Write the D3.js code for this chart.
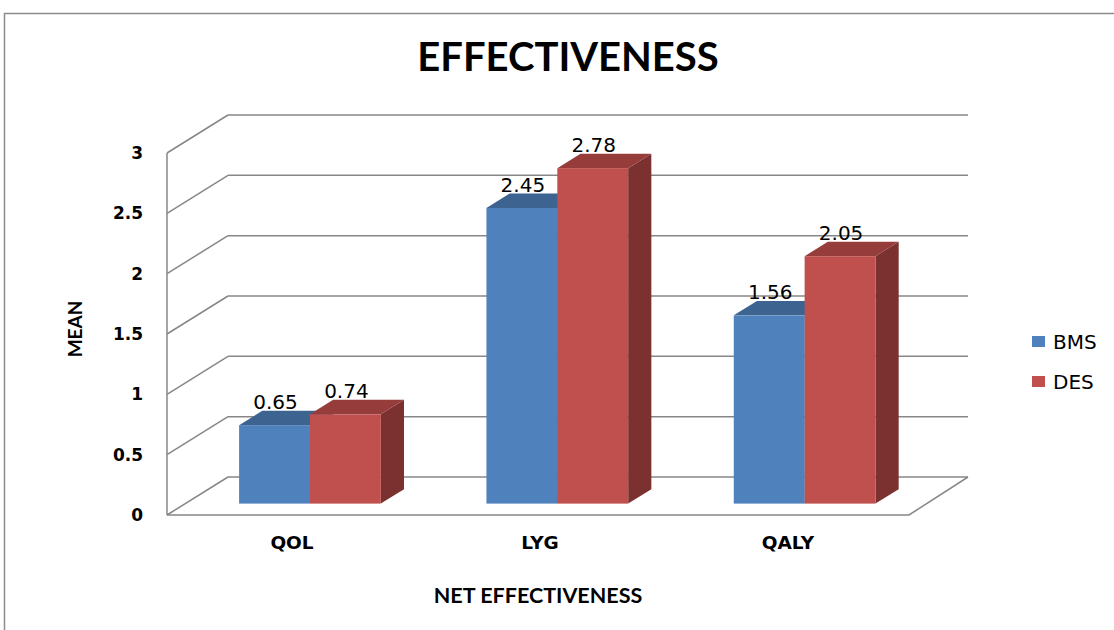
<!DOCTYPE html>
<html>
<head>
<meta charset="utf-8">
<script src="https://cdn.jsdelivr.net/npm/d3@7"></script>
<style>
  body { margin: 0; background: #fff; }
  svg { display: block; font-family: Lato, "Open Sans", sans-serif; }
</style>
</head>
<body>
<div id="chart"></div>
<script>
const WIDTH = 1114;
const HEIGHT = 630;

const categories = ["QOL", "LYG", "QALY"];
const seriesNames = ["BMS", "DES"];
const bmsValues = [0.65, 2.45, 1.56];
const desValues = [0.74, 2.78, 2.05];
const yTicks = [0, 0.5, 1, 1.5, 2, 2.5, 3];

const colors = {
  BMS: { front: "#4f81bd", top: "#3d6391", side: "#34567e" },
  DES: { front: "#c0504d", top: "#963d3b", side: "#7a3130" }
};
const LABEL_FONT = "'DejaVu Sans', Verdana, sans-serif";

// 3d frame: front floor plane and depth offset
const plot = { left: 167, right: 905, bottom: 515, top: 153 };
const DX = 61, DY = 38;          // depth of the whole box
const Z0 = 0.3, Z1 = 0.68;       // bar front / back depth fraction

const svg = d3.select("#chart").append("svg")
  .attr("width", WIDTH)
  .attr("height", HEIGHT);

// outer border
svg.append("rect")
  .attr("x", 4.5).attr("y", 13.5)
  .attr("width", WIDTH + 20).attr("height", HEIGHT + 20)
  .attr("fill", "none").attr("stroke", "#8c8c8c").attr("stroke-width", 1.5);

let yScale = d3.scaleLinear().domain([0, 3]).range([plot.bottom, plot.top]);
let xScale = d3.scaleBand().domain(categories).range([plot.left + 1, plot.right + 5])
  .paddingInner(0.427).paddingOuter(0.2135);
let xSub = d3.scaleBand().domain(seriesNames).range([0, xScale.bandwidth()]);

// walls: back gridlines and left-wall diagonals
let grid = svg.append("g").classed("gridlines", true)
  .attr("stroke", "#878787").attr("stroke-width", 1.5).attr("fill", "none");
grid.selectAll("line.back").data(yTicks).enter()
  .append("line").classed("back", true)
  .attr("x1", plot.left + DX).attr("x2", plot.right + DX + 2)
  .attr("y1", d => yScale(d) - DY).attr("y2", d => yScale(d) - DY);
grid.selectAll("line.side").data(yTicks).enter()
  .append("line").classed("side", true)
  .attr("x1", plot.left).attr("x2", plot.left + DX)
  .attr("y1", d => yScale(d)).attr("y2", d => yScale(d) - DY);
// front axis + floor edge
grid.append("line")
  .attr("x1", plot.left).attr("x2", plot.left)
  .attr("y1", yScale(3)).attr("y2", yScale(0));
grid.append("polyline")
  .attr("points", [[plot.left, yScale(0)], [plot.right + 4, yScale(0)], [plot.right + DX + 2, yScale(0) - DY]].join(" "));

// bars
let bars = [];
categories.forEach((c, i) => {
  bars.push({ cat: c, series: "BMS", value: bmsValues[i] });
  bars.push({ cat: c, series: "DES", value: desValues[i] });
});

let barsG = svg.append("g").classed("bars", true);
bars.forEach(d => {
  let x0 = xScale(d.cat) + xSub(d.series) + Z0 * DX;
  let x1 = x0 + xSub.bandwidth();
  let yb = yScale(0) - Z0 * DY;
  let yt = yScale(d.value) - Z0 * DY;
  let ddx = (Z1 - Z0) * DX, ddy = (Z1 - Z0) * DY;
  let c = colors[d.series];
  let g = barsG.append("g").classed("bar " + d.series, true);
  g.append("polygon").attr("fill", c.side)
    .attr("points", [[x1, yt], [x1 + ddx, yt - ddy], [x1 + ddx, yb - ddy], [x1, yb]].join(" "));
  g.append("polygon").attr("fill", c.top)
    .attr("points", [[x0, yt], [x0 + ddx, yt - ddy], [x1 + ddx, yt - ddy], [x1, yt]].join(" "));
  g.append("rect").attr("fill", c.front)
    .attr("x", x0).attr("y", yt).attr("width", x1 - x0).attr("height", yb - yt);
  g.append("text")
    .attr("x", (x0 + x1) / 2 + 1).attr("y", yt - ddy - 2)
    .attr("text-anchor", "middle")
    .attr("font-family", LABEL_FONT)
    .attr("font-size", 20).attr("fill", "#000")
    .text(d3.format(".2f")(d.value));
});

// y axis labels
let yAxis = d3.axisLeft(yScale).tickValues(yTicks).tickSize(0).tickPadding(0).tickFormat(d => String(d));
let yAxisG = svg.append("g")
  .attr("class", "y axis")
  .attr("transform", "translate(143,0)")
  .call(yAxis);
yAxisG.select(".domain").remove();
yAxisG.selectAll("text").attr("font-size", 17).attr("font-weight", "bold")
  .attr("font-family", LABEL_FONT).attr("fill", "#000");

// x axis labels
let xLabelScale = d3.scaleBand().domain(categories).range([plot.left, plot.right + 6]);
let xAxis = d3.axisBottom(xLabelScale).tickSize(0).tickPadding(0);
let xAxisG = svg.append("g")
  .attr("class", "x axis")
  .attr("transform", "translate(1,536)")
  .call(xAxis);
xAxisG.select(".domain").remove();
xAxisG.selectAll("text").attr("font-size", 18.5).attr("font-weight", "bold")
  .attr("font-family", LABEL_FONT).attr("fill", "#000");

// titles
svg.append("text")
  .attr("x", 568).attr("y", 71)
  .attr("text-anchor", "middle")
  .attr("font-size", 40).attr("font-weight", "bold")
  .text("EFFECTIVENESS");
svg.append("text")
  .attr("x", 538).attr("y", 603)
  .attr("text-anchor", "middle")
  .attr("font-size", 21.5).attr("font-weight", "bold")
  .text("NET EFFECTIVENESS");
svg.append("text")
  .attr("transform", "translate(82,329) rotate(-90)")
  .attr("text-anchor", "middle")
  .attr("font-size", 19).attr("font-weight", "bold")
  .text("MEAN");

// legend
let legend = svg.append("g").classed("legend", true).attr("transform", "translate(1032,336)");
legend.selectAll("g").data(seriesNames).enter().append("g")
  .attr("transform", (d, i) => `translate(0,${i * 40})`)
  .each(function(d) {
    d3.select(this).append("rect")
      .attr("width", 13).attr("height", 11)
      .attr("fill", colors[d].front);
    d3.select(this).append("text")
      .attr("x", 21).attr("y", 13)
      .attr("font-family", LABEL_FONT)
      .attr("font-size", 20)
      .text(d);
  });
</script>
</body>
</html>
